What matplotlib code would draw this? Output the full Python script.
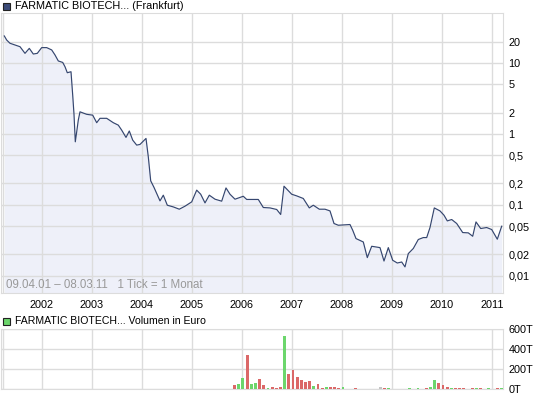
import matplotlib
matplotlib.use("Agg")
import matplotlib.pyplot as plt
from matplotlib.patches import Rectangle

plt.rcParams['font.family'] = ['Liberation Sans', 'DejaVu Sans']

# Price series (decimal year, EUR)
price_t = [2001.246, 2001.294, 2001.36, 2001.46, 2001.56, 2001.66, 2001.746, 2001.826,
           2001.906, 2001.994, 2002.094, 2002.194, 2002.26, 2002.326, 2002.414, 2002.46,
           2002.506, 2002.58, 2002.614, 2002.64, 2002.666, 2002.694, 2002.726, 2002.76,
           2002.894, 2003.014, 2003.094, 2003.16, 2003.294, 2003.426, 2003.526, 2003.594,
           2003.68, 2003.746, 2003.814, 2003.894, 2003.96, 2004.08, 2004.126, 2004.174,
           2004.24, 2004.294, 2004.36, 2004.426, 2004.506, 2004.626, 2004.746, 2004.86,
           2004.994, 2005.094, 2005.174, 2005.26, 2005.346, 2005.46, 2005.594, 2005.68,
           2005.76, 2005.86, 2006.026, 2006.094, 2006.326, 2006.426, 2006.56, 2006.694,
           2006.774, 2006.84, 2006.994, 2007.094, 2007.226, 2007.346, 2007.426, 2007.546,
           2007.66, 2007.76, 2007.84, 2007.926, 2008.16, 2008.214, 2008.28, 2008.426,
           2008.506, 2008.594, 2008.76, 2008.84, 2008.926, 2009.014, 2009.106, 2009.194,
           2009.26, 2009.326, 2009.426, 2009.526, 2009.626, 2009.694, 2009.76, 2009.846,
           2009.96, 2010.04, 2010.106, 2010.194, 2010.294, 2010.414, 2010.526, 2010.614,
           2010.68, 2010.774, 2010.894, 2010.994, 2011.106, 2011.194]
price = [24.1, 21.1, 19.0, 17.97, 17.0, 13.7, 16.1, 13.4,
         13.7, 16.5, 16.5, 15.3, 13.0, 10.7, 10.2, 8.87,
         7.30, 7.54, 3.53, 1.89, 0.774, 1.07, 1.57, 2.05,
         1.89, 1.84, 1.44, 1.66, 1.66, 1.44, 1.33, 1.13,
         0.893, 1.10, 0.818, 0.695, 0.711, 0.864, 0.475, 0.218,
         0.176, 0.1445, 0.1136, 0.1367, 0.0987, 0.0934, 0.0867, 0.0956,
         0.110, 0.161, 0.141, 0.1064, 0.1367, 0.120, 0.1125, 0.173,
         0.141, 0.120, 0.132, 0.119, 0.119, 0.0916, 0.0904, 0.0859,
         0.0730, 0.183, 0.141, 0.1336, 0.1228, 0.0904, 0.0987, 0.0867,
         0.0867, 0.082, 0.0545, 0.0515, 0.0527, 0.0438, 0.0334, 0.0299,
         0.0180, 0.0260, 0.0249, 0.0161, 0.0249, 0.0165, 0.0151, 0.0156,
         0.0133, 0.0205, 0.0242, 0.0324, 0.0345, 0.0345, 0.0478, 0.0904,
         0.082, 0.0713, 0.0593, 0.0620, 0.0545, 0.0406, 0.0402, 0.0360,
         0.0574, 0.0463, 0.0478, 0.0448, 0.0327, 0.0499]

# Monthly volume in thousand EUR, Nov 2005 .. Mar 2011
vol_start = 2005 + 10 / 12
volume = [40, 50, 113, 340, 50, 60, 100, 40, 10, 23, 13, 23,
          530, 150, 190, 120, 90, 70, 80, 30, 50, 10, 20, 20,
          20, 10, 20, 0, 0, 10, 0, 0, 0, 0, 0, 20,
          10, 10, 0, 0, 0, 0, 10, 0, 10, 0, 10, 20,
          90, 60, 40, 20, 10, 10, 10, 10, 0, 10, 10, 10,
          0, 10, 0, 10, 10]
vol_dir = ['r', 'g', 'g', 'r', 'g', 'g', 'r', 'r', 'g', 'r', 'r', 'r',
           'g', 'r', 'r', 'r', 'r', 'r', 'r', 'g', 'r', 'r', 'g', 'r',
           'r', 'r', 'g', 'r', 'r', 'r', 'r', 'r', 'r', 'r', 'r', 'n',
           'r', 'g', 'r', 'r', 'r', 'r', 'g', 'r', 'g', 'r', 'r', 'g',
           'g', 'r', 'r', 'r', 'g', 'r', 'r', 'r', 'r', 'r', 'g', 'r',
           'r', 'g', 'r', 'r', 'g']

years = list(range(2002, 2012))
ytick_vals = [20, 10, 5, 2, 1, 0.5, 0.2, 0.1, 0.05, 0.02, 0.01]
ytick_labels = ['20', '10', '5', '2', '1', '0,5', '0,2', '0,1', '0,05', '0,02', '0,01']
vol_ticks = [0, 200, 400, 600]
vol_labels = ['0T', '200T', '400T', '600T']

W, H = 545, 398
grid_c = '#dcdcdc'
line_c = '#35466f'
fill_c = '#eef0f9'
bar_colors = {'r': '#db6868', 'g': '#6cd66c', 'n': '#c4c4c4'}
x0, x1 = 2001.18, 2011.22


def fx(px):
    return px / W


def fy(py):
    return 1 - py / H


fig = plt.figure(figsize=(W / 100, H / 100), dpi=100)

# --- price panel ---
ax = fig.add_axes([fx(1), fy(293), fx(502), 280 / H])
ax.set_yscale('log')
ax.set_xlim(x0, x1)
ax.set_ylim(0.0057, 50.8)
ax.fill_between(price_t, price, 0.0057, color=fill_c, lw=0, zorder=1)
ax.plot(price_t, price, color=line_c, lw=0.85, zorder=3)
for yv in ytick_vals:
    ax.axhline(yv, color=grid_c, lw=1, zorder=2)
for yr in years:
    ax.axvline(yr, color=grid_c, lw=1, zorder=2)
ax.axvline(2001.22, color=grid_c, lw=1, zorder=2)
ax.yaxis.tick_right()
ax.set_yticks(ytick_vals, ytick_labels)
ax.minorticks_off()
ax.set_xticks(years, [str(y) for y in years])
ax.tick_params(length=0, labelsize=7.8, colors='black')
ax.tick_params(axis='y', pad=4)
ax.tick_params(axis='x', pad=5)
for s in ax.spines.values():
    s.set_color(grid_c)
ax.text(2001.28, 0.0068, '09.04.01 \u2013 08.03.11   1 Tick = 1 Monat',
        color='#999999', fontsize=8.3, zorder=4)

# --- volume panel ---
av = fig.add_axes([fx(1), fy(389), fx(502), 60 / H])
av.set_xlim(x0, x1)
av.set_ylim(0, 600)
for i, v in enumerate(volume):
    if v > 0:
        av.bar(vol_start + i / 12 + 0.02, v, width=0.06,
               color=bar_colors[vol_dir[i]], zorder=3)
for yv in vol_ticks:
    av.axhline(yv, color=grid_c, lw=1, zorder=2)
for yr in years:
    av.axvline(yr, color=grid_c, lw=1, zorder=2)
av.axvline(2001.22, color=grid_c, lw=1, zorder=2)
av.yaxis.tick_right()
av.set_yticks(vol_ticks, vol_labels)
av.set_xticks([])
av.tick_params(length=0, labelsize=7.8, pad=4)
for s in av.spines.values():
    s.set_color(grid_c)

# --- headers ---
fig.patches.append(Rectangle((fx(3), fy(10)), fx(7), 7 / H, transform=fig.transFigure,
                             fc='#3b4b78', ec='#222222', lw=0.8))
fig.text(fx(15), fy(6), 'FARMATIC BIOTECH... (Frankfurt)', fontsize=7.8,
         va='center', ha='left')
fig.patches.append(Rectangle((fx(3), fy(325)), fx(7), 7 / H, transform=fig.transFigure,
                             fc='#6cd66c', ec='#222222', lw=0.8))
fig.text(fx(15), fy(321), 'FARMATIC BIOTECH... Volumen in Euro', fontsize=7.6,
         va='center', ha='left')

fig.savefig('out.png', dpi=100)
